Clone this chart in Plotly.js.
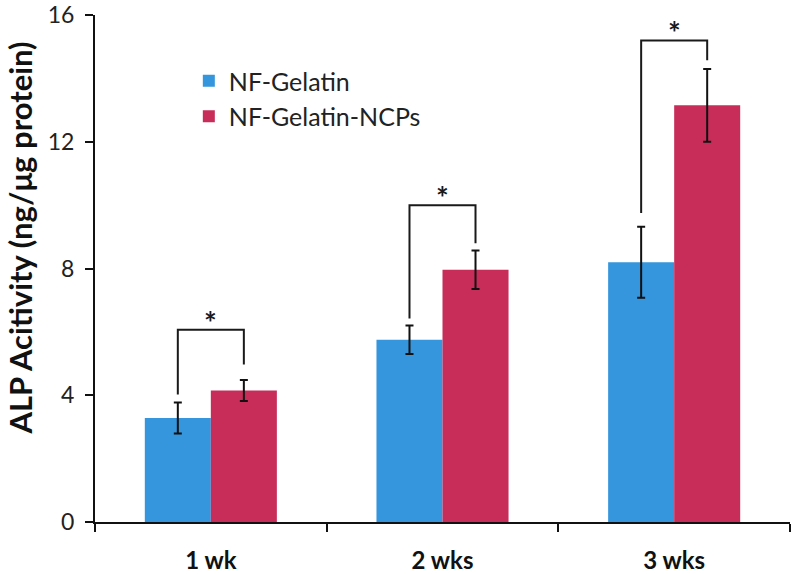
<!DOCTYPE html>
<html>
<head>
<meta charset="utf-8">
<script src="https://cdn.plot.ly/plotly-3.0.1.min.js"></script>
<style>
  html, body { margin: 0; padding: 0; background: #fff; }
  #chart { width: 792px; height: 574px; }
</style>
</head>
<body>
<div id="chart"></div>
<script>
// data
var weeks = ['1 wk', '2 wks', '3 wks'];
var gelatin = [3.28, 5.75, 8.2];
var gelatinErr = [0.49, 0.45, 1.12];
var ncps = [4.15, 7.96, 13.15];
var ncpsErr = [0.33, 0.61, 1.15];

// significance brackets: left leg foot, bar top, right leg foot
var brLeft = [4.02, 6.42, 9.75];
var brTop = [6.07, 10.0, 15.2];
var brRight = [4.97, 8.8, 14.57];
var brLabel = ['*', '*', '*'];

var gap = 0.43;
var half = (1 - gap) / 4;   // offset of each bar centre from the category

var blue = '#3596dd';
var red = '#c82d5a';

var traces = [
  {
    type: 'bar', name: 'NF-Gelatin', x: weeks, y: gelatin, legendgroup: 'a',
    marker: {color: blue},
    error_y: {type: 'data', array: gelatinErr, color: '#111', thickness: 2, width: 4}
  },
  {
    type: 'bar', name: 'NF-Gelatin-NCPs', x: weeks, y: ncps, legendgroup: 'b',
    marker: {color: red},
    error_y: {type: 'data', array: ncpsErr, color: '#111', thickness: 2, width: 4}
  }
];

var shapes = [];
var annotations = [];
for (var i = 0; i < weeks.length; i++) {
  var xl = i - half, xr = i + half;
  shapes.push({
    type: 'path', xref: 'x', yref: 'y',
    path: 'M ' + xl + ',' + brLeft[i] + ' L ' + xl + ',' + brTop[i] +
          ' L ' + xr + ',' + brTop[i] + ' L ' + xr + ',' + brRight[i],
    line: {color: '#1a1a1a', width: 2}
  });
  annotations.push({
    x: i, y: brTop[i], xref: 'x', yref: 'y', text: brLabel[i],
    showarrow: false, yanchor: 'bottom', yshift: -12,
    font: {size: 30, color: '#1a1a1a', family: 'Lato, sans-serif', weight: 'bold'}
  });
}

// y axis title as an annotation so it can sit a bit above centre like the original
annotations.push({
  xref: 'paper', yref: 'paper', x: -0.108, y: 0.561,
  xanchor: 'center', yanchor: 'middle', textangle: -90, showarrow: false,
  text: 'ALP Acitivity (ng/μg protein)',
  font: {size: 31, color: '#111', family: 'Lato, sans-serif', weight: 'bold'}
});

var layout = {
  width: 792, height: 574,
  margin: {l: 95, r: 2, t: 15, b: 52},
  paper_bgcolor: '#fff', plot_bgcolor: '#fff',
  font: {family: 'Lato, "Open Sans", sans-serif', color: '#222'},
  barmode: 'group', bargap: gap, bargroupgap: 0,
  showlegend: true,
  legend: {
    x: 0.135, y: 0.915, xanchor: 'left', yanchor: 'top',
    font: {size: 25, color: '#222'}, traceorder: 'grouped', tracegroupgap: 0,
    bgcolor: 'rgba(0,0,0,0)'
  },
  xaxis: {
    type: 'category', range: [-0.5, 2.5], tickson: 'boundaries',
    ticks: 'outside', ticklen: 8, tickwidth: 2, tickcolor: '#111',
    showline: true, linecolor: '#111', linewidth: 2,
    showgrid: false, zeroline: false, ticklabelstandoff: 16,
    tickfont: {size: 24, color: '#111', family: 'Lato, sans-serif', weight: 'bold'}
  },
  yaxis: {
    range: [0, 16.001], tickvals: [0, 4, 8, 12, 16],
    ticks: 'outside', ticklen: 8, tickwidth: 2, tickcolor: '#111',
    showline: true, linecolor: '#111', linewidth: 2,
    showgrid: false, zeroline: false, ticklabeloverflow: 'allow',
    ticklabelstandoff: 6,
    tickfont: {size: 23, color: '#222'}
  },
  shapes: shapes,
  annotations: annotations
};

Plotly.newPlot('chart', traces, layout, {displayModeBar: false, staticPlot: true});
</script>
</body>
</html>
